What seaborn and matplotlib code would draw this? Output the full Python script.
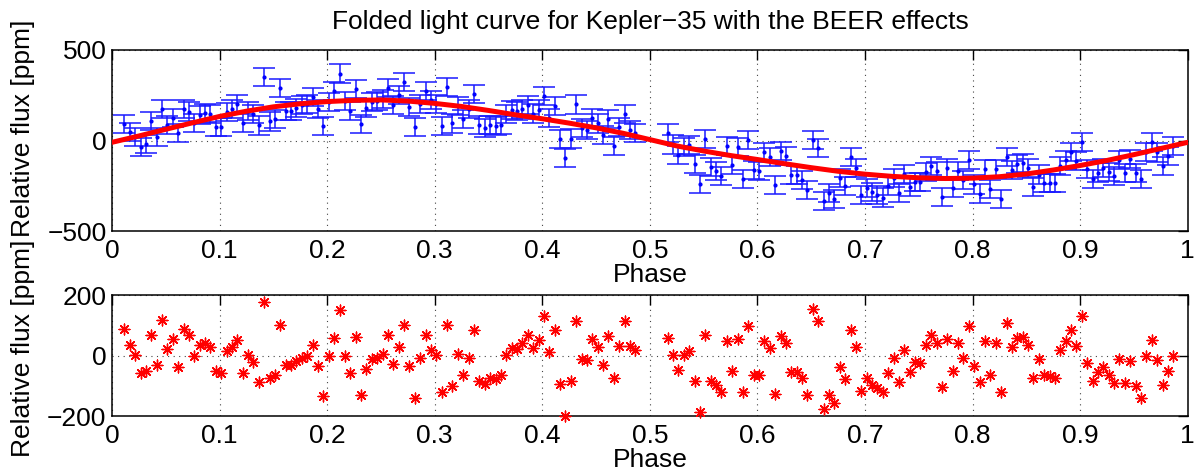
import matplotlib
matplotlib.use('Agg')
import matplotlib.pyplot as plt
import numpy as np
import pandas as pd
import seaborn as sns
from matplotlib.ticker import FormatStrFormatter

# bin indices of the folded curve (eclipses removed), bin width 0.005
bins = np.r_[0:96, 101:196]
phase = 0.0115 + 0.005 * bins

# binned relative flux [ppm]
flux = [93, 45, 21, -34, -20, 107, 17, 173, 85, 125, 39, 173, 160, 97, 139, 152,
        148, 74, 74, 155, 174, 200, 97, 163, 147, 83, 353, 105, 121, 291, 161, 164,
        181, 195, 204, 242, 176, 80, 214, 274, 370, 218, 162, 284, 91, 178, 211, 216,
        228, 290, 194, 250, 321, 183, 73, 203, 275, 223, 203, 82, 297, 94, 192, 121,
        172, 259, 86, 71, 85, 78, 87, 148, 168, 161, 176, 194, 149, 171, 247, 124,
        190, 7, -98, 11, 199, 68, 60, 123, 94, 28, 117, -28, 73, 148, 60, 40,
        43, -22, -78, -35, -26, -132, -238, 9, -146, -166, -195, -31, -133, -34, -214, 2,
        -164, -168, -63, -89, -246, -58, -85, -188, -193, -217, -275, 5, -41, -335, -291, -322,
        -207, -250, -93, -151, -299, -262, -284, -300, -315, -253, -206, -289, -183, -259, -227, -231,
        -173, -141, -168, -312, -154, -262, -167, -217, -110, -243, -293, -158, -268, -159, -322, -89,
        -165, -132, -126, -151, -255, -188, -235, -234, -237, -140, -106, -64, -111, -8, -158, -212,
        -177, -153, -173, -196, -107, -181, -103, -179, -211, -65, -6, -66, -142, -87, -31]
flux_err = 50

# residuals after subtracting the BEER model [ppm]
resid = [89, 34, 3, -59, -52, 67, -30, 118, 23, 56, -37, 89, 69, -1, 34, 40,
         29, -52, -59, 16, 29, 50, -59, 1, -20, -89, 177, -76, -65, 102, -32, -32,
         -19, -8, -1, 34, -34, -133, -1, 58, 152, -1, -59, 62, -131, -45, -12, -8,
         4, 67, -28, 29, 102, -35, -142, -7, 67, 18, 1, -120, 102, -101, 4, -63,
         -7, 84, -84, -95, -76, -78, -65, 1, 26, 23, 43, 67, 25, 51, 131, 12,
         84, -94, -199, -85, 113, -12, -15, 53, 29, -32, 65, -76, 31, 113, 31, 18,
         59, 1, -48, 1, 15, -85, -186, 67, -83, -98, -122, 47, -50, 53, -122, 98,
         -63, -63, 47, 25, -127, 65, 43, -56, -56, -76, -129, 155, 113, -177, -129, -156,
         -37, -77, 83, 29, -116, -76, -96, -109, -122, -57, -8, -89, 18, -56, -23, -25,
         34, 67, 40, -103, 56, -52, 42, -8, 98, -35, -87, 47, -65, 43, -122, 108,
         29, 59, 62, 34, -74, -12, -63, -67, -74, 18, 47, 84, 32, 130, -26, -85,
         -56, -37, -63, -92, -10, -90, -19, -101, -140, -1, 51, -15, -98, -50, -1]

# BEER model curve sampled every 0.025 in phase
model_phase = np.linspace(0, 1, 41)
model_flux = [-10, 25, 62, 98, 133, 162, 186, 203, 215, 222, 224, 218, 205, 188, 166, 142,
              120, 96, 70, 40, 5, -30, -58, -83, -105, -128, -150, -170, -186, -198, -206, -210,
              -208, -200, -185, -163, -138, -110, -78, -44, -10]

xticks = np.arange(0, 1.01, 0.1)

sns.set_style('white')
plt.rcParams['font.family'] = ['Liberation Sans', 'DejaVu Sans']
plt.rcParams['font.size'] = 19
plt.rcParams['text.color'] = 'black'
plt.rcParams['axes.labelcolor'] = 'black'
plt.rcParams['xtick.color'] = 'black'
plt.rcParams['ytick.color'] = 'black'

df = pd.DataFrame({'phase': phase, 'flux': flux, 'resid': resid})
model = pd.DataFrame({'phase': model_phase, 'flux': model_flux})

fig = plt.figure(figsize=(11.94, 4.73), dpi=100)
ax1 = fig.add_axes([0.0938, 0.5116, 0.901, 0.3827])
ax2 = fig.add_axes([0.0938, 0.1205, 0.901, 0.2558])

# top panel: data with error bars and the model
ax1.errorbar(df['phase'], df['flux'], yerr=flux_err, fmt='.', color='#0000ff',
             ecolor='#1a1aff', elinewidth=1.1, capsize=8, capthick=1.1, markersize=4, zorder=2)
sns.lineplot(data=model, x='phase', y='flux', color='red', linewidth=3.6, ax=ax1, zorder=3)
ax1.set_ylim(-500, 500)
ax1.set_yticks([-500, 0, 500])
ax1.set_title('Folded light curve for Kepler\u221235 with the BEER effects', fontsize=19,
              pad=15, color='black')

# bottom panel: residuals
sns.scatterplot(data=df, x='phase', y='resid', marker=(8, 2, 0), s=60, color='red',
                edgecolor='red', linewidth=1, ax=ax2, clip_on=False, zorder=3)
ax2.set_ylim(-200, 200)
ax2.set_yticks([-200, 0, 200])

for ax in (ax1, ax2):
    ax.set_xlim(0, 1)
    ax.set_xticks(xticks)
    ax.xaxis.set_major_formatter(FormatStrFormatter('%g'))
    ax.set_xlabel('Phase', fontsize=19, labelpad=0)
    ax.set_ylabel('Relative flux [ppm]', fontsize=19)
    ax.grid(True, linestyle=(0, (1, 4)), color='#444444', linewidth=0.8)
    ax.tick_params(direction='in', top=True, right=True, length=7, width=1,
                   labelsize=19, pad=4)
    ax.tick_params(axis='x', pad=6)
    for s in ax.spines.values():
        s.set_linewidth(1.1)
        s.set_color('black')

ax1.yaxis.set_label_coords(-0.072, 0.57)
ax2.yaxis.set_label_coords(-0.072, 0.56)

fig.savefig('out.png', dpi=100)
